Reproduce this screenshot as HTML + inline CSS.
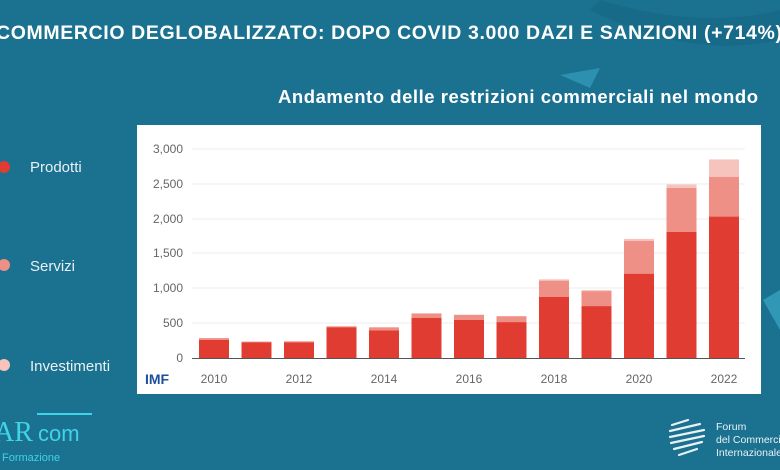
<!DOCTYPE html>
<html><head><meta charset="utf-8"><style>
html,body{margin:0;padding:0;}
body{width:780px;height:470px;overflow:hidden;background:#1b7190;font-family:"Liberation Sans",sans-serif;}
</style></head><body>
<svg width="780" height="470" xmlns="http://www.w3.org/2000/svg" style="display:block">
<rect width="780" height="470" fill="#1b7190"/>
<path d="M600 0 Q700 30 780 10 L780 40 Q690 60 590 10 Z" fill="#186884" opacity="0.6"/>
<path d="M560 75 L600 68 L590 88 Z" fill="#3fb0cf" opacity="0.5"/>
<path d="M763 300 L780 290 L780 330 Z" fill="#3fb0cf" opacity="0.6"/>
<text x="-4" y="39" font-family="'Liberation Sans',sans-serif" font-weight="bold" font-size="19.5" fill="#fff" textLength="786">COMMERCIO DEGLOBALIZZATO: DOPO COVID 3.000 DAZI E SANZIONI (+714%)</text>
<text x="278" y="103" font-weight="bold" font-size="18.5" fill="#fff" textLength="480">Andamento delle restrizioni commerciali nel mondo</text>
<circle cx="4" cy="167" r="6" fill="#e03c31"/>
<text x="30" y="172" font-size="15" fill="#e8f1f4">Prodotti</text>
<circle cx="4" cy="265" r="6" fill="#ef9087"/>
<text x="30" y="271" font-size="15" fill="#e8f1f4">Servizi</text>
<circle cx="4" cy="365" r="6" fill="#f7c4bd"/>
<text x="30" y="371" font-size="15" fill="#e8f1f4">Investimenti</text>
<rect x="137" y="125" width="624" height="269" fill="#fff"/>
<g stroke="#eeeeee" stroke-width="1">
<line x1="192" x2="745" y1="149" y2="149"/><line x1="192" x2="745" y1="184" y2="184"/>
<line x1="192" x2="745" y1="219" y2="219"/><line x1="192" x2="745" y1="253" y2="253"/>
<line x1="192" x2="745" y1="288" y2="288"/><line x1="192" x2="745" y1="323" y2="323"/>
</g>
<g font-size="12" fill="#666" text-anchor="end">
<text x="183" y="153">3,000</text><text x="183" y="188">2,500</text><text x="183" y="223">2,000</text>
<text x="183" y="257">1,500</text><text x="183" y="292">1,000</text><text x="183" y="327">500</text><text x="183" y="362">0</text>
</g>
<g>
<rect x="199" y="338.1" width="30" height="1.8" fill="#ef9087"/><rect x="199" y="339.9" width="30" height="18.1" fill="#e03c31"/>
<rect x="241.5" y="341.6" width="30" height="0.7" fill="#ef9087"/><rect x="241.5" y="342.3" width="30" height="15.7" fill="#e03c31"/>
<rect x="284" y="341.3" width="30" height="1" fill="#ef9087"/><rect x="284" y="342.3" width="30" height="15.7" fill="#e03c31"/>
<rect x="326.5" y="326.3" width="30" height="1" fill="#ef9087"/><rect x="326.5" y="327.3" width="30" height="30.7" fill="#e03c31"/>
<rect x="369" y="327.3" width="30" height="3.2" fill="#ef9087"/><rect x="369" y="330.5" width="30" height="27.5" fill="#e03c31"/>
<rect x="411.5" y="313.4" width="30" height="4.5" fill="#ef9087"/><rect x="411.5" y="317.9" width="30" height="40.1" fill="#e03c31"/>
<rect x="454" y="314.8" width="30" height="5.2" fill="#ef9087"/><rect x="454" y="320" width="30" height="38" fill="#e03c31"/>
<rect x="496.5" y="316.2" width="30" height="5.9" fill="#ef9087"/><rect x="496.5" y="322.1" width="30" height="35.9" fill="#e03c31"/>
<rect x="539" y="279.3" width="30" height="1.4" fill="#f7c4bd"/><rect x="539" y="280.7" width="30" height="16.3" fill="#ef9087"/><rect x="539" y="297" width="30" height="61" fill="#e03c31"/>
<rect x="581.5" y="290.1" width="30" height="1" fill="#f7c4bd"/><rect x="581.5" y="291.1" width="30" height="15" fill="#ef9087"/><rect x="581.5" y="306.1" width="30" height="51.9" fill="#e03c31"/>
<rect x="624" y="238.9" width="30" height="2" fill="#f7c4bd"/><rect x="624" y="240.9" width="30" height="32.8" fill="#ef9087"/><rect x="624" y="273.7" width="30" height="84.3" fill="#e03c31"/>
<rect x="666.5" y="184.5" width="30" height="3.5" fill="#f7c4bd"/><rect x="666.5" y="188" width="30" height="43.9" fill="#ef9087"/><rect x="666.5" y="231.9" width="30" height="126.1" fill="#e03c31"/>
<rect x="709" y="159.4" width="30" height="17.5" fill="#f7c4bd"/><rect x="709" y="176.9" width="30" height="39.7" fill="#ef9087"/><rect x="709" y="216.6" width="30" height="141.4" fill="#e03c31"/>
</g>
<line x1="192" x2="745" y1="358.5" y2="358.5" stroke="#555" stroke-width="1"/>
<g font-size="12" fill="#666" text-anchor="middle">
<text x="214" y="383">2010</text><text x="299" y="383">2012</text><text x="384" y="383">2014</text>
<text x="469" y="383">2016</text><text x="554" y="383">2018</text><text x="639" y="383">2020</text><text x="724" y="383">2022</text>
</g>
<text x="145" y="384" font-size="14" font-weight="bold" fill="#1d4f9c">IMF</text>
<line x1="37" x2="92" y1="414" y2="414" stroke="#3fd3e6" stroke-width="2"/>
<text x="-6" y="441" font-family="'Liberation Serif',serif" font-size="28" fill="#3fd3e6">AR</text>
<text x="38" y="441" font-size="22" fill="#3fd3e6">com</text>
<text x="2" y="461" font-size="11" fill="#3fd3e6">Formazione</text>
<g stroke="#e8f1f4" stroke-width="2.2" stroke-linecap="round">
<line x1="672" y1="425" x2="688" y2="420"/><line x1="670" y1="431" x2="700" y2="424"/>
<line x1="670" y1="437" x2="704" y2="430"/><line x1="671" y1="443" x2="704" y2="436"/>
<line x1="674" y1="449" x2="702" y2="442"/><line x1="679" y1="455" x2="697" y2="449"/>
</g>
<text x="716" y="430" font-size="10.5" fill="#e8f1f4">Forum</text>
<text x="716" y="443" font-size="10.5" fill="#e8f1f4">del Commercio</text>
<text x="716" y="456" font-size="10.5" fill="#e8f1f4">Internazionale</text>
</svg>
</body></html>
